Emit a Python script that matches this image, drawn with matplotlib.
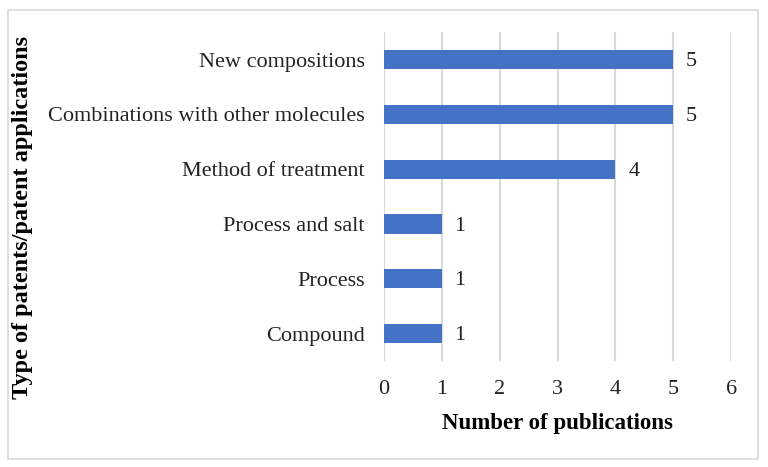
import numpy as np
import matplotlib.pyplot as plt
from matplotlib.patches import Rectangle

categories = ['Compound', 'Process', 'Process and salt', 'Method of treatment',
              'Combinations with other molecules', 'New compositions']
counts = [1, 1, 1, 4, 5, 5]
xticks = [0, 1, 2, 3, 4, 5, 6]

plt.rcParams['font.family'] = ['Liberation Serif', 'DejaVu Serif']

fig = plt.figure(figsize=(7.68, 4.67), dpi=100)
ax = fig.add_axes([0.5, 0.227, 0.452, 0.704])

y = np.arange(len(categories))
ax.barh(y, counts, height=0.35, color='#4472C4', zorder=3)
for yi, c in zip(y, counts):
    ax.text(c + 0.22, yi - 0.04, str(c), va='center', ha='left', fontsize=16, color='#222222')

ax.set_xlim(0, 6)
ax.set_ylim(-0.5, len(categories) - 0.5)
ax.set_xticks(xticks)
ax.set_yticks(y)
ax.set_yticklabels(categories)
ax.tick_params(axis='both', length=0, labelsize=16, colors='#222222')
ax.tick_params(axis='x', pad=14)
ax.tick_params(axis='y', pad=14)
ax.grid(True, axis='x', color='#D9D9D9', linewidth=1.5, zorder=0)
for s in ax.spines.values():
    s.set_visible(False)

ax.set_xlabel('Number of publications', fontsize=16.5, fontweight='bold', labelpad=10)
fig.text(0.029, 0.535, 'Type of patents/patent applications', rotation=90,
         va='center', ha='center', fontsize=17.5, fontweight='bold')

fig.patches.append(Rectangle((0.011, 0.017), 0.976, 0.962, transform=fig.transFigure,
                             fill=False, edgecolor='#D9D9D9', linewidth=1.2))

fig.savefig('out.png', dpi=100)
